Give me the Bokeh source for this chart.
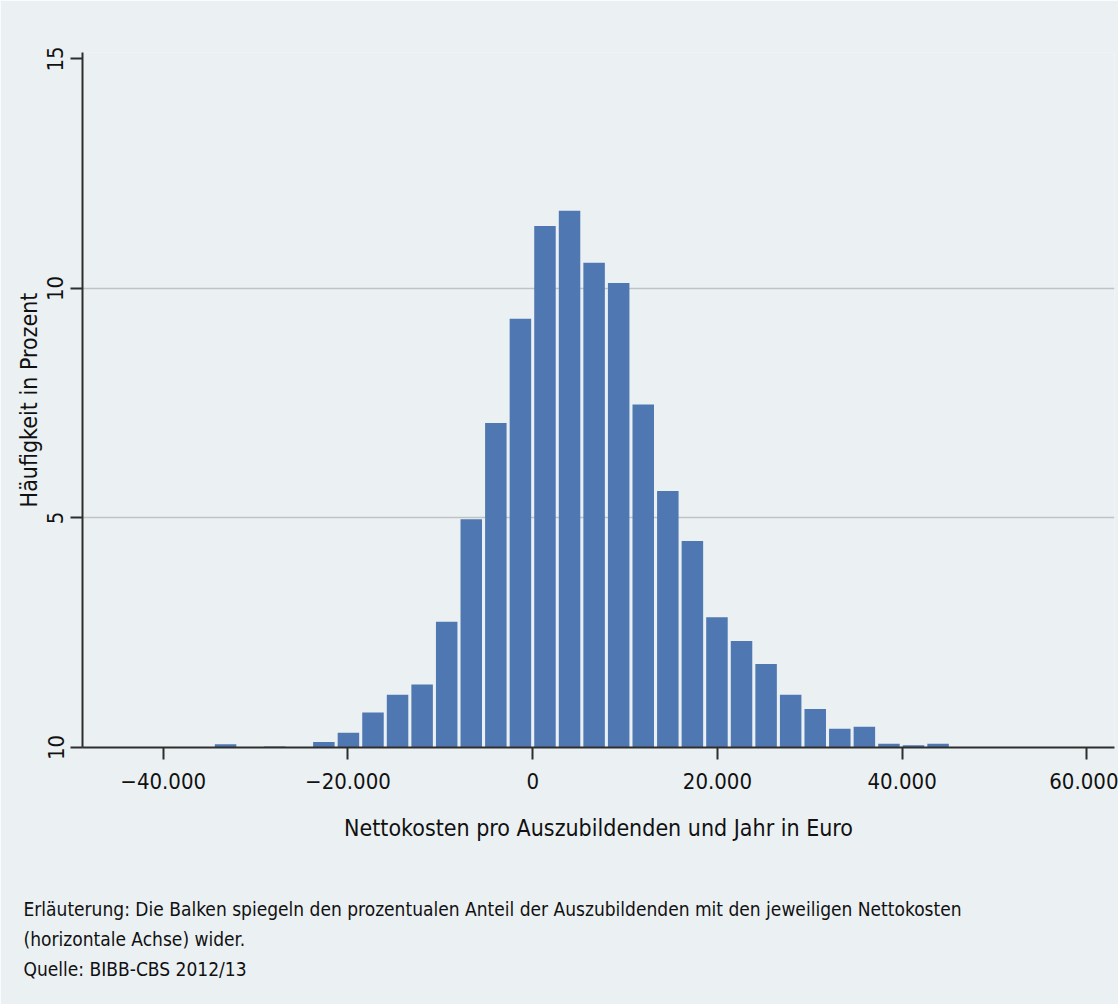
from bokeh.plotting import figure
from bokeh.models import FixedTicker, Range1d, Title, ColumnDataSource
from bokeh.embed import file_html
from bokeh.resources import INLINE

# ---- data ----
bin_start = [-34580, -31920, -29260, -26600, -23940, -21280, -18620, -15960,
             -13300, -10640, -7980, -5320, -2660, 0, 2660, 5320, 7980, 10640,
             13300, 15960, 18620, 21280, 23940, 26600, 29260, 31920, 34580,
             37240, 39900, 42560]
share = [0.07, 0.0, 0.02, 0.0, 0.12, 0.32, 0.76, 1.15,
         1.37, 2.74, 4.97, 7.07, 9.34, 11.36, 11.69, 10.56, 10.12, 7.47,
         5.59, 4.50, 2.84, 2.32, 1.82, 1.15, 0.84, 0.41, 0.45,
         0.08, 0.05, 0.08]
bin_width = 2660
x_ticks = [-40000, -20000, 0, 20000, 40000, 60000]
x_tick_labels = ["\u221240.000", "\u221220.000", "0", "20.000", "40.000", "60.000"]
y_ticks = [0, 5, 10, 15]
y_tick_labels = ["10", "5", "10", "15"]
x_title = "Nettokosten pro Auszubildenden und Jahr in Euro"
y_title = "Häufigkeit in Prozent"
caption = ["Erläuterung: Die Balken spiegeln den prozentualen Anteil der Auszubildenden mit den jeweiligen Nettokosten",
           "(horizontale Achse) wider.",
           "Quelle: BIBB-CBS 2012/13"]

BG = "#EBF0F3"
BAR = "#4F78B2"
FONT = "'DejaVu Sans Condensed', Lato, sans-serif"
TXT = "#111111"

centers = [s + bin_width / 2 for s in bin_start]
src = ColumnDataSource(dict(x=centers, top=share))

W, H = 1118, 1004

p = figure(width=W, height=H, output_backend="svg", toolbar_location=None,
           x_range=Range1d(-48740, 62990), y_range=Range1d(0, 15.14),
           min_border_left=82, min_border_right=4, min_border_top=52,
           min_border_bottom=H - 747)
p.background_fill_color = BG
p.border_fill_color = BG
p.outline_line_color = None

p.vbar(x="x", top="top", bottom=0, width=bin_width * 0.875, source=src,
       fill_color=BAR, line_color=None)

# grid
p.xgrid.visible = False
p.ygrid.ticker = FixedTicker(ticks=[5, 10])
p.ygrid.grid_line_color = "#BFC3C6"
p.ygrid.grid_line_width = 1.5

# axes
for ax in (p.xaxis[0], p.yaxis[0]):
    ax.axis_line_color = "#2E2E2E"
    ax.axis_line_width = 2
    ax.major_tick_line_color = "#2E2E2E"
    ax.major_tick_line_width = 2
    ax.major_tick_out = 12
    ax.major_tick_in = 0
    ax.minor_tick_line_color = None
    ax.major_label_text_font = FONT
    ax.major_label_text_color = TXT
    ax.axis_label_text_font = FONT
    ax.axis_label_text_font_style = "normal"
    ax.axis_label_text_color = TXT

p.xaxis.ticker = FixedTicker(ticks=x_ticks)
p.xaxis.major_label_overrides = dict(zip(x_ticks, x_tick_labels))
p.xaxis.major_label_text_font_size = "22px"
p.xaxis.major_label_standoff = 13
p.xaxis.axis_label = x_title
p.xaxis.axis_label_text_font_size = "23px"
p.xaxis.axis_label_standoff = 23

p.yaxis.ticker = FixedTicker(ticks=y_ticks)
p.yaxis.major_label_overrides = dict(zip(y_ticks, y_tick_labels))
p.yaxis.major_label_orientation = "vertical"
p.yaxis.major_label_text_font_size = "22px"
p.yaxis.major_label_standoff = 7
p.yaxis.axis_label = y_title
p.yaxis.axis_label_text_font_size = "23px"
p.yaxis.axis_label_standoff = 3

# empty spacer row between the axis title and the caption
spacer = Title(text=" ", align="left", standoff=30, text_font=FONT,
               text_font_size="19px", text_font_style="normal")
p.add_layout(spacer, "below")

cap = Title(text="\n".join(caption), align="left", offset=-59,
            vertical_align="top", standoff=0, text_font=FONT,
            text_font_size="19px", text_font_style="normal",
            text_color=TXT, text_line_height=1.37)
p.add_layout(cap, "below")

open("out.html", "w").write(file_html(p, INLINE))
